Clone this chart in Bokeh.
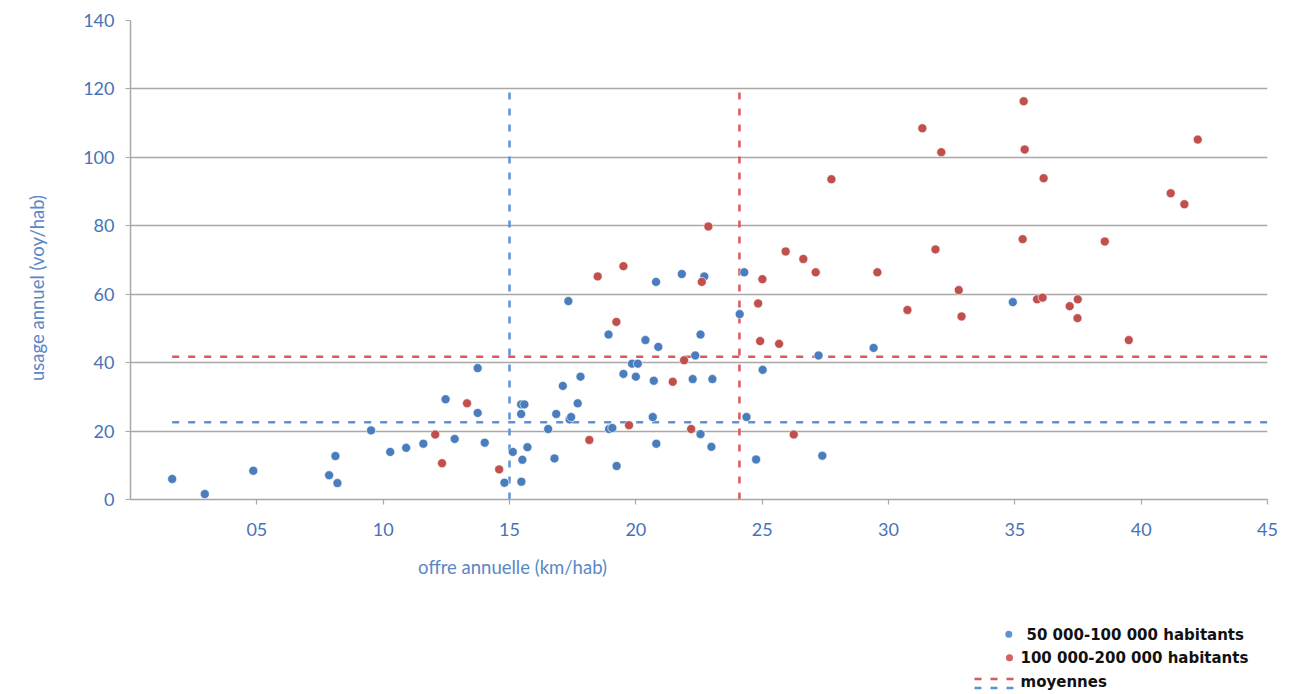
import math
from bokeh.plotting import figure
from bokeh.models import Range1d, FixedTicker
from bokeh.layouts import column, row
from bokeh.embed import file_html
from bokeh.resources import INLINE
from bokeh.core.properties import value

# ---------------- data ----------------
blue_x = [1.65, 2.94, 4.86, 7.86, 8.11, 8.19, 9.52, 10.28, 10.91, 11.59, 12.47, 12.83,
          13.74, 13.74, 14.02, 14.80, 15.13, 15.46, 15.46, 15.59, 15.51, 15.47, 15.71,
          16.53, 16.78, 16.85, 17.11, 17.38, 17.44, 17.70, 17.81, 18.94, 19.07, 19.24,
          19.51, 19.85, 20.08, 20.00, 20.67, 20.71, 20.81, 22.25, 22.56, 23.03, 22.99,
          24.38, 25.02, 24.76, 27.38, 17.33, 18.92, 20.38, 20.89, 20.80, 21.82, 22.71,
          22.56, 22.35, 24.29, 24.11, 27.23, 29.41, 34.92]
blue_y = [6.0, 1.6, 8.4, 7.1, 12.7, 4.8, 20.2, 13.9, 15.1, 16.3, 29.3, 17.7,
          38.4, 25.3, 16.6, 4.9, 13.9, 25.0, 27.8, 27.8, 11.6, 5.2, 15.3,
          20.6, 12.0, 25.0, 33.2, 23.4, 24.1, 28.1, 35.9, 20.6, 20.9, 9.8,
          36.7, 39.7, 39.7, 35.9, 24.1, 34.7, 16.3, 35.2, 19.1, 35.2, 15.4,
          24.1, 37.9, 11.7, 12.8, 58.0, 48.2, 46.6, 44.6, 63.6, 65.9, 65.2,
          48.2, 42.1, 66.4, 54.2, 42.1, 44.3, 57.7]

red_x = [12.06, 13.32, 12.33, 14.59, 18.16, 19.73, 21.46, 22.19, 21.91, 26.25, 18.49,
         19.51, 19.23, 22.61, 25.01, 24.84, 24.92, 25.67, 22.87, 25.93, 26.63, 27.12,
         27.74, 29.56, 30.75, 31.34, 32.09, 31.86, 32.78, 32.89, 35.35, 35.39, 36.14,
         35.31, 35.88, 36.10, 37.17, 37.49, 37.48, 38.56, 39.51, 41.17, 41.71, 42.24]
red_y = [19.0, 28.1, 10.6, 8.8, 17.4, 21.7, 34.4, 20.6, 40.7, 19.0, 65.2,
         68.2, 51.9, 63.6, 64.4, 57.3, 46.3, 45.5, 79.8, 72.5, 70.3, 66.4,
         93.6, 66.4, 55.4, 108.5, 101.5, 73.1, 61.2, 53.5, 116.4, 102.3, 93.9,
         76.1, 58.5, 59.0, 56.5, 58.5, 53.0, 75.4, 46.6, 89.5, 86.3, 105.2]

mean_blue_x, mean_blue_y = 15.0, 22.6
mean_red_x, mean_red_y = 24.1, 41.7

x_ticks = [5, 10, 15, 20, 25, 30, 35, 40, 45]
x_tick_labels = ["05", "10", "15", "20", "25", "30", "35", "40", "45"]
y_ticks = [0, 20, 40, 60, 80, 100, 120, 140]
y_tick_labels = ["0", "20", "40", "60", "80", "100", "120", "140"]

x_title = "offre annuelle (km/hab)"
y_title = "usage annuel (voy/hab)"
legend_labels = ["50 000-100 000 habitants", "100 000-200 000 habitants", "moyennes"]

# ---------------- style ----------------
BLUE_PT = "#4a7dbd"
RED_PT = "#c0504d"
BLUE_DASH = "#5b93d6"
RED_DASH = "#d9585a"
GRID = "#a8a8a8"
TICK_TXT = "#4872b8"
TITLE_TXT = "#5a87c6"

X_MAX, Y_MAX = 45, 140
V_TOP = 120

W, H = 1303, 694
LEFT_W = 60          # strip holding the y title
TOP_H = 548          # height of the plot row
BOT_H = H - TOP_H    # strip holding x title + legend

p = figure(width=W - LEFT_W, height=TOP_H, x_range=Range1d(0, X_MAX), y_range=Range1d(0, Y_MAX),
           output_backend="svg", toolbar_location=None,
           min_border_left=70, min_border_right=36, min_border_top=20, min_border_bottom=49)
p.outline_line_color = None
p.xgrid.visible = False
p.ygrid.grid_line_color = GRID
p.ygrid.grid_line_width = 1.5

p.xaxis.ticker = FixedTicker(ticks=x_ticks)
p.xaxis.major_label_overrides = dict(zip(x_ticks, x_tick_labels))
p.yaxis.ticker = FixedTicker(ticks=y_ticks)
p.yaxis.major_label_overrides = dict(zip(y_ticks, y_tick_labels))
for ax in (p.xaxis[0], p.yaxis[0]):
    ax.axis_line_color = GRID
    ax.axis_line_width = 1.5
    ax.major_tick_line_color = GRID
    ax.major_tick_line_width = 1.2
    ax.major_tick_out = 5
    ax.major_tick_in = 0
    ax.minor_tick_line_color = None
    ax.major_label_text_color = TICK_TXT
    ax.major_label_text_font = "Lato"
    ax.major_label_text_font_size = "18px"
p.xaxis.major_label_standoff = 18
p.yaxis.major_label_standoff = 11
p.yaxis.major_label_text_align = "center"

x_lo = min(blue_x + red_x)

# mean lines
p.line([x_lo, X_MAX], [mean_red_y, mean_red_y], line_color=RED_DASH, line_width=2.5, line_dash="7 9")
p.line([x_lo, X_MAX], [mean_blue_y, mean_blue_y], line_color=BLUE_DASH, line_width=2.5, line_dash="7 9")
p.line([mean_blue_x, mean_blue_x], [0, V_TOP], line_color=BLUE_DASH, line_width=2.5, line_dash="7 9")
p.line([mean_red_x, mean_red_x], [0, V_TOP], line_color=RED_DASH, line_width=2.5, line_dash="7 9")

p.scatter(blue_x, blue_y, size=9, fill_color=BLUE_PT, line_color="white", line_alpha=0.6, line_width=1)
p.scatter(red_x, red_y, size=9, fill_color=RED_PT, line_color="white", line_alpha=0.6, line_width=1)

# ---------------- y title strip ----------------
yt = figure(width=LEFT_W, height=TOP_H, x_range=Range1d(0, LEFT_W), y_range=Range1d(0, TOP_H),
            output_backend="svg", toolbar_location=None, min_border=0,
            x_axis_type=None, y_axis_type=None)
yt.outline_line_color = None
yt.grid.visible = False
yt.text(x=[36.7], y=[TOP_H - 289 - 17], text=[y_title], angle=math.pi / 2,
        text_font=value("Lato"), text_font_size="18.5px", text_color=TITLE_TXT,
        text_align="center", text_baseline="middle")

# ---------------- bottom strip: x title + legend ----------------
lg = figure(width=W, height=BOT_H, x_range=Range1d(0, W), y_range=Range1d(0, BOT_H),
            output_backend="svg", toolbar_location=None, min_border=0,
            x_axis_type=None, y_axis_type=None)
lg.outline_line_color = None
lg.grid.visible = False

def sy(img_y):
    return H - img_y

lg.text(x=[512], y=[sy(566)], text=[x_title], text_font=value("Lato"), text_font_size="18.5px",
        text_color=TITLE_TXT, text_align="center", text_baseline="middle")

lg.scatter([1008.3], [sy(633.7)], size=7, fill_color=BLUE_DASH, line_color=None)
lg.scatter([1009], [sy(657.3)], size=7, fill_color="#d65f5f", line_color=None)
lg.segment(x0=[974], y0=[sy(678.5)], x1=[1015], y1=[sy(678.5)], line_color=RED_DASH, line_width=2.5, line_dash="7 9")
lg.segment(x0=[974], y0=[sy(687.5)], x1=[1015], y1=[sy(687.5)], line_color=BLUE_DASH, line_width=2.5, line_dash="7 9")
lg.text(x=[1026, 1020, 1020], y=[sy(634), sy(657.3), sy(681.5)], text=legend_labels,
        text_font=value("DejaVu Sans"), text_font_style="bold", text_font_size="15px",
        text_baseline="middle", text_align="left", text_color="#111111")

layout = column(row(yt, p, spacing=0), lg, spacing=0)
open("out.html", "w").write(file_html(layout, INLINE))
